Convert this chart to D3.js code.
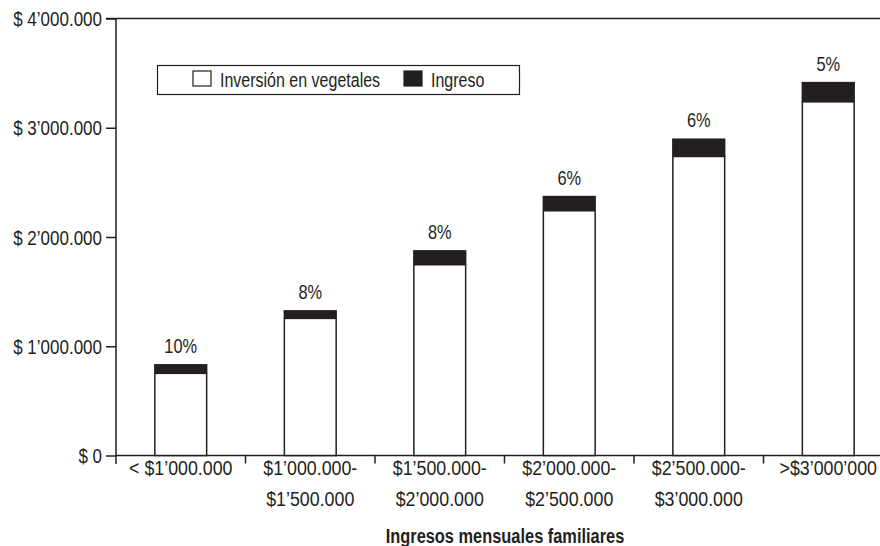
<!DOCTYPE html>
<html>
<head>
<meta charset="utf-8">
<script src="https://cdn.jsdelivr.net/npm/d3@7"></script>
<style>
  body { margin: 0; background: #fff; }
  svg text { font-family: "Liberation Sans", Arial, sans-serif; fill: #231f20; }
</style>
</head>
<body>
<div id="chart"></div>
<script>
// rangos de ingreso (eje x)
const categories = [
  '< $1’000.000',
  '$1’000.000-|$1’500.000',
  '$1’500.000-|$2’000.000',
  '$2’000.000-|$2’500.000',
  '$2’500.000-|$3’000.000',
  '>$3’000’000'
];
// parte blanca y parte negra de cada barra
const inversion = [752000, 1255000, 1746000, 2240000, 2737000, 3237000];
const ingreso = [85000, 76000, 134000, 137000, 165000, 183000];
const percentLabels = ['10%', '8%', '8%', '6%', '6%', '5%'];
const yTicks = [0, 1000000, 2000000, 3000000, 4000000];
const seriesNames = ['Inversión en vegetales', 'Ingreso'];

const width = 880;
const height = 546;
const ink = '#231f20';

const svg = d3.select('#chart').append('svg')
  .attr('width', width)
  .attr('height', height);

const x = d3.scaleBand()
  .domain(categories)
  .range([116, 893])
  .paddingInner(0.6)
  .paddingOuter(0.3);

const y = d3.scaleLinear()
  .domain([0, 4000000])
  .range([455.5, 18.5]);

function fmtMoney(v) {
  if (v === 0) return '$ 0';
  const m = Math.floor(v / 1000000);
  return `$ ${m}’000.000`;
}

// texto angosto (la fuente original es condensada)
function narrowText(parent, px, py, str, size, sx, anchor) {
  return parent.append('text')
    .attr('transform', `translate(${px},${py}) scale(${sx},1)`)
    .attr('text-anchor', anchor || 'start')
    .attr('font-size', size)
    .text(str);
}

// marco superior
svg.append('line')
  .attr('x1', 106).attr('x2', width)
  .attr('y1', y(4000000)).attr('y2', y(4000000))
  .attr('stroke', ink).attr('stroke-width', 1.5);

// eje y
const yAxis = svg.append('g')
  .attr('transform', 'translate(116,0)')
  .call(d3.axisLeft(y).tickValues(yTicks).tickFormat(fmtMoney).tickSize(10));
yAxis.select('.domain').attr('stroke', ink).attr('stroke-width', 1.5)
  .attr('d', `M0,${y(4000000)}V464`);
yAxis.selectAll('.tick line').attr('stroke', ink).attr('stroke-width', 1.5);
yAxis.selectAll('.tick text')
  .attr('font-size', 20)
  .attr('font-family', null)
  .attr('fill', ink)
  .attr('x', -14 / 0.85)
  .attr('dy', '0.36em')
  .attr('transform', 'scale(0.85,1)');

// eje x
svg.append('line')
  .attr('x1', 116).attr('x2', width)
  .attr('y1', y(0)).attr('y2', y(0))
  .attr('stroke', ink).attr('stroke-width', 1.5);

svg.selectAll('.xtick')
  .data(categories.slice(1))
  .enter().append('line')
  .attr('class', 'xtick')
  .attr('x1', (d) => x(d) - (x.step() - x.bandwidth()) / 2)
  .attr('x2', (d) => x(d) - (x.step() - x.bandwidth()) / 2)
  .attr('y1', y(0)).attr('y2', y(0) + 8)
  .attr('stroke', ink).attr('stroke-width', 1.5);

const xLabels = svg.selectAll('.xlabel')
  .data(categories)
  .enter().append('text')
  .attr('class', 'xlabel')
  .attr('text-anchor', 'middle')
  .attr('font-size', 20)
  .attr('transform', (d) => `translate(${x(d) + x.bandwidth() / 2},475) scale(0.89,1)`);
xLabels.selectAll('tspan')
  .data((d) => d.split('|'))
  .enter().append('tspan')
  .attr('x', 0)
  .attr('y', (d, i) => i * 31)
  .text((d) => d);

// barras
const bars = svg.selectAll('.bar')
  .data(categories)
  .enter().append('g')
  .attr('class', 'bar');

bars.append('rect')
  .attr('x', (d) => x(d))
  .attr('width', x.bandwidth())
  .attr('y', (d, i) => y(inversion[i]))
  .attr('height', (d, i) => y(0) - y(inversion[i]))
  .attr('fill', '#fff')
  .attr('stroke', ink).attr('stroke-width', 1.5);

bars.append('rect')
  .attr('x', (d) => x(d) - 0.75)
  .attr('width', x.bandwidth() + 1.5)
  .attr('y', (d, i) => y(inversion[i] + ingreso[i]))
  .attr('height', (d, i) => y(inversion[i]) - y(inversion[i] + ingreso[i]))
  .attr('fill', ink);

bars.each(function addPct(d, i) {
  narrowText(d3.select(this), x(d) + x.bandwidth() / 2,
    y(inversion[i] + ingreso[i]) - 11, percentLabels[i], 20, 0.82, 'middle');
});

// leyenda
const legend = svg.append('g');
legend.append('rect')
  .attr('x', 157.5).attr('y', 65.5)
  .attr('width', 362).attr('height', 29)
  .attr('fill', '#fff').attr('stroke', ink).attr('stroke-width', 1.2);
const legendX = [193, 404];
const legendFill = ['#fff', ink];
seriesNames.forEach((name, i) => {
  legend.append('rect')
    .attr('x', legendX[i]).attr('y', 71)
    .attr('width', 18).attr('height', 15)
    .attr('fill', legendFill[i])
    .attr('stroke', ink).attr('stroke-width', 1.2);
  narrowText(legend, legendX[i] + 27, 87, name, 20, 0.8);
});

// titulo eje x
narrowText(svg, 505, 543, 'Ingresos mensuales familiares', 20.5, 0.8, 'middle')
  .attr('font-weight', 'bold');
</script>
</body>
</html>
